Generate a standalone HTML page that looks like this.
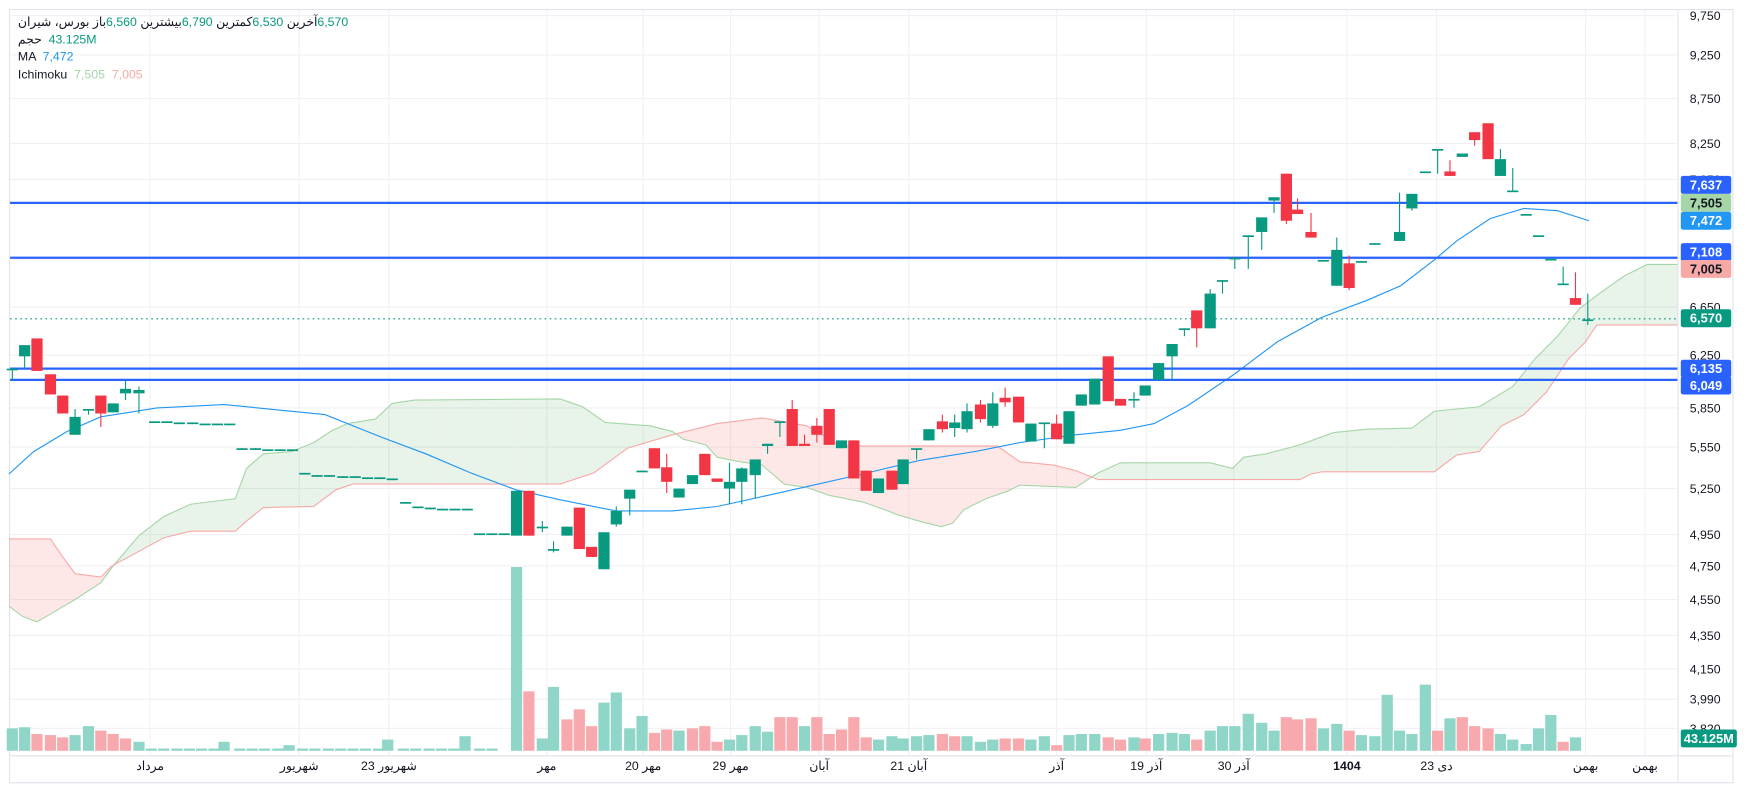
<!DOCTYPE html>
<html><head><meta charset="utf-8"><style>
html,body{margin:0;padding:0;background:#fff;width:1757px;height:790px;overflow:hidden}
svg{display:block;font-family:"Liberation Sans","Noto Sans CJK SC",sans-serif}
#wrap{position:absolute;left:0;top:0;transform:scale(1.1205);transform-origin:0 0}
#leg{position:absolute;left:16px;top:13px;font:11px "Liberation Sans","Noto Sans CJK SC",sans-serif;color:#131722;line-height:15.5px;white-space:nowrap}
#leg span{unicode-bidi:isolate}
.g{color:#089981}.b{color:#2196f3}.lg{color:#a5d6a7}.lr{color:#f7a9a7}
</style></head><body>
<svg id="s" width="1757" height="790" viewBox="0 0 1568 705" preserveAspectRatio="none" xmlns="http://www.w3.org/2000/svg"></svg>
<div id="wrap"><div id="leg">
<div><span>بورس، شیران</span> <span>باز</span><span class="g">6,560</span> <span>بیشترین</span><span class="g">6,790</span> <span>کمترین</span><span class="g">6,530</span> <span>آخرین</span><span class="g">6,570</span></div>
<div><span>حجم</span> &nbsp;<span class="g">43.125M</span></div>
<div>MA &nbsp;<span class="b">7,472</span></div>
<div>Ichimoku &nbsp;<span class="lg">7,505</span> &nbsp;<span class="lr">7,005</span></div>
</div></div>
<script>
const s=document.getElementById('s');let h='';
const G='#089981',R='#f23645';
h+='<rect x="8.5" y="8.5" width="1538" height="690" fill="none" stroke="#e0e3eb"/>';
const ys=[[14,'9,750'],[49,'9,250'],[88,'8,750'],[128,'8,250'],[274,'6,650'],[317,'6,250'],[364,'5,850'],[399,'5,550'],[436,'5,250'],[477,'4,950'],[505,'4,750'],[535,'4,550'],[567,'4,350'],[597,'4,150'],[624,'3,990'],[650,'3,820'],[160,'7,850'],[232,'7,050']];
for(const [y,t] of ys){h+=`<line x1="9" x2="1497" y1="${y}" y2="${y}" stroke="#f0f1f4"/>`;h+=`<text x="1508" y="${y+4}" font-size="11" fill="#131722">${t}</text>`;}
const xs=[[134,'مرداد'],[267,'شهریور'],[347,'23 شهریور'],[488,'مهر'],[574,'20 مهر'],[652,'29 مهر'],[731,'آبان'],[811,'21 آبان'],[943,'آذر'],[1023,'19 آذر'],[1101,'30 آذر'],[1202,'1404'],[1282,'23 دی'],[1415,'بهمن'],[1468,'بهمن']];
for(const [x,t] of xs){h+=`<line x1="${x}" x2="${x}" y1="9" y2="674" stroke="#f0f1f4"/>`;h+=`<text x="${x}" y="687" font-size="11" fill="#131722" text-anchor="middle" ${t=='1404'?'font-weight="bold"':''}>${t}</text>`;}
h+='<line x1="1497.5" x2="1497.5" y1="9" y2="698" stroke="#e0e3eb"/><line x1="9" x2="1546" y1="674.5" y2="674.5" stroke="#e0e3eb"/>';
const A=[[8,541],[20,550],[33,555],[45,548],[67,535],[90,520],[101,505],[124,478],[146,461],[170,450],[210,445],[220,418],[235,405],[260,403],[280,395],[295,385],[310,378],[335,374],[350,360],[370,357],[500,356],[520,363],[540,377],[580,380],[600,385],[610,392],[630,397],[640,408],[660,412],[680,415],[700,432],[720,435],[740,442],[770,448],[790,455],[800,459],[820,465],[840,470],[850,467],[860,455],[880,445],[900,438],[910,433],[960,435],[980,422],[1000,413],[1080,413],[1100,418],[1110,408],[1130,405],[1160,397],[1190,386],[1220,383],[1260,382],[1280,367],[1320,363],[1350,345],[1370,320],[1390,300],[1410,275],[1430,260],[1450,246],[1470,236],[1497,236]];
const B=[[8,481],[45,481],[56,497],[67,512],[90,515],[100,505],[124,492],[146,480],[170,474],[210,474],[220,465],[235,453],[280,452],[300,437],[315,432],[500,432],[530,422],[560,400],[600,388],[640,378],[680,373],[720,380],[750,398],[890,398],[910,412],[940,415],[960,420],[980,428],[1160,428],[1170,423],[1180,421],[1280,421],[1300,406],[1320,403],[1340,380],[1360,370],[1380,350],[1400,320],[1415,305],[1425,290],[1497,290]];
function ip(P,x){for(let i=0;i<P.length-1;i++){if(x>=P[i][0]&&x<=P[i+1][0]){const t=(x-P[i][0])/(P[i+1][0]-P[i][0]||1);return P[i][1]+t*(P[i+1][1]-P[i][1]);}}return P[P.length-1][1];}
for(let x=8;x<1497;x++){const a=ip(A,x),b=ip(B,x),a2=ip(A,x+1),b2=ip(B,x+1);const c=a<b?'rgba(67,160,71,0.12)':'rgba(244,67,54,0.12)';h+=`<polygon points="${x},${a} ${x+1},${a2} ${x+1},${b2} ${x},${b}" fill="${c}"/>`;}
h+=`<polyline points="${A.map(p=>p.join(',')).join(' ')}" fill="none" stroke="#a5d6a7" stroke-width="1"/>`;
h+=`<polyline points="${B.map(p=>p.join(',')).join(' ')}" fill="none" stroke="#f7a9a7" stroke-width="1"/>`;
const M=[[8,423],[30,403],[60,385],[90,372],[140,364],[200,361],[240,365],[290,370],[340,390],[380,405],[420,422],[460,437],[500,446],[550,456],[600,456],[640,452],[690,441],[730,432],[770,423],[820,411],[870,403],[910,395],[960,388],[1000,384],[1030,378],[1060,362],[1100,335],[1140,305],[1180,283],[1220,268],[1250,255],[1280,232],[1300,215],[1330,195],[1360,186],[1390,188],[1418,197]];
h+=`<polyline points="${M.map(p=>p.join(',')).join(' ')}" fill="none" stroke="#2196f3" stroke-width="1"/>`;
const V=[[11,650,G],[22,649,G],[33,655,R],[45,656,R],[56,658,R],[67,656,G],[79,648,G],[90,652,R],[101,655,R],[112,659,R],[124,662,G],[200,662,G],[258,665,G],[346,660,G],[415,657,G],[461,506,G],[472,617,R],[484,659,G],[494,613,G],[506,642,R],[517,633,R],[528,648,R],[539,627,G],[550,618,G],[562,650,G],[573,639,G],[584,654,R],[595,651,R],[606,652,G],[618,650,R],[629,648,R],[640,662,R],[651,660,G],[662,656,G],[674,648,G],[685,653,G],[696,640,R],[707,640,R],[718,648,G],[729,640,R],[740,655,R],[751,651,R],[762,640,R],[773,658,R],[784,660,G],[796,657,G],[806,659,G],[818,657,G],[829,656,G],[841,655,R],[852,657,R],[863,657,G],[875,662,G],[886,660,G],[897,659,R],[909,659,R],[920,660,G],[932,657,G],[943,665,R],[954,656,G],[965,655,G],[977,655,G],[989,658,R],[1000,660,R],[1012,658,G],[1022,659,R],[1034,655,G],[1046,654,G],[1057,655,G],[1068,660,R],[1080,652,G],[1091,648,G],[1102,648,G],[1114,637,G],[1126,645,G],[1137,652,G],[1148,640,R],[1158,642,R],[1170,641,R],[1181,650,G],[1193,646,G],[1204,652,R],[1215,656,G],[1227,657,G],[1238,620,G],[1249,652,G],[1260,655,G],[1272,611,G],[1283,652,R],[1294,641,G],[1305,640,R],[1316,648,R],[1328,650,R],[1339,655,G],[1350,660,G],[1362,664,G],[1373,650,G],[1384,638,G],[1395,662,R],[1406,658,G]];
const vx=[...V.map(v=>v[0])];
for(let x=135;x<450;x+=11.25){if(!vx.some(q=>Math.abs(q-x)<5))V.push([Math.round(x),668,G]);}
for(const [x,y,c] of V){h+=`<rect x="${x-5}" y="${y}" width="10" height="${670-y}" fill="${c==G?'#8fd5c8':'#f7a9ad'}"/>`;}
for(const y of [181,230,329,339])h+=`<line x1="9" x2="1497" y1="${y}" y2="${y}" stroke="#2962ff" stroke-width="2"/>`;
h+='<line x1="9" x2="1497" y1="284.5" y2="284.5" stroke="#089981" stroke-dasharray="1.5,3"/>';
const C=[[11,329,330,329,340,G],[22,308,318,308,329,G],[33,302,331,302,331,R],[45,334,352,334,352,R],[56,353,369,353,369,R],[67,372,388,365,388,G],[79,365,366,365,370,G],[90,353,369,353,381,R],[101,360,368,360,368,G],[112,347,351,339,357,G],[124,348,351,345,369,G],
[461,438,478,438,478,G],[472,438,478,438,478,R],[484,470,471,465,475,G],[494,490,491,483,493,G],[506,470,478,470,478,G],[517,453,490,453,490,R],[528,488,497,488,497,R],[539,475,508,475,508,G],[550,456,468,452,470,G],[562,437,445,437,460,G],[573,420,421,420,421,G],[584,400,418,400,418,R],[595,417,430,405,440,R],[606,436,444,436,444,G],[618,424,432,424,432,G],[629,405,424,405,424,R],[640,427,430,427,430,R],[651,430,436,413,450,G],[662,418,430,417,450,G],[674,410,424,410,445,G],[685,396,398,396,405,G],[696,376,377,376,390,G],[707,365,398,357,398,R],[718,396,398,388,398,R],[729,380,388,373,395,R],[740,365,397,365,397,R],[751,393,400,393,400,G],[762,393,427,393,427,R],[773,420,438,420,438,R],[784,427,440,427,440,G],[796,420,437,420,437,R],[806,410,432,410,432,G],[818,400,401,400,410,G],[829,383,393,383,393,G],[841,376,383,370,386,R],[852,377,382,370,390,G],[863,367,383,360,386,G],[875,361,374,357,377,R],[886,360,380,350,382,G],[897,355,359,346,363,R],[909,354,377,354,377,R],[920,378,394,378,394,G],[932,377,378,377,400,G],[943,378,392,370,392,R],[954,367,396,367,396,G],[965,352,362,352,362,G],[977,338,361,338,361,G],[989,318,358,318,358,R],[1000,356,362,356,362,R],[1012,356,357,350,364,G],[1022,344,353,344,353,G],[1034,324,339,324,339,G],[1046,307,318,307,340,G],[1057,293,294,293,300,G],[1068,277,293,277,310,R],[1080,262,293,258,293,G],[1091,250,251,250,262,G],[1102,230,231,230,240,G],[1114,210,211,210,240,G],[1126,194,207,194,223,G],[1137,176,179,176,190,G],[1148,155,197,155,200,R],[1158,187,191,177,191,R],[1170,207,212,190,212,R],[1181,232,233,232,233,G],[1193,223,255,212,255,G],[1204,235,257,228,259,R],[1215,233,234,233,234,G],[1227,217,218,217,218,G],[1249,207,215,172,215,G],[1260,173,186,173,188,G],[1272,153,154,153,154,G],[1283,133,134,133,155,G],[1294,153,157,143,157,R],[1305,137,140,137,140,G],[1316,118,125,118,130,R],[1328,110,142,110,142,R],[1339,142,157,133,157,G],[1350,170,171,150,171,G],[1362,191,192,191,192,G],[1373,210,211,210,211,G],[1384,231,232,231,232,G],[1395,253,254,238,254,G],[1406,266,272,243,272,R],[1417,285,286,262,290,G]];
const dash=[[138,376],[149,376],[160,377],[172,377],[183,378],[194,378],[205,378],[216,400],[228,400],[239,401],[250,401],[261,401],[272,422],[283,424],[294,424],[306,425],[317,425],[328,426],[339,426],[350,427],[362,448],[373,452],[384,453],[395,454],[406,454],[417,454],[428,476],[439,476],[450,476]];
for(const [x,y] of dash)C.push([x,y,y+1.5,y,y+1.5,G]);
for(const [x,t,b,wt,wb,c] of C){h+=`<line x1="${x}" x2="${x}" y1="${wt}" y2="${wb}" stroke="${c}" stroke-width="1"/>`;h+=`<rect x="${x-5}" y="${t}" width="10" height="${Math.max(b-t,1.5)}" fill="${c}"/>`;}
const T=[[165,'7,637','#2962ff','#fff'],[181,'7,505','#a5d6a7','#131722'],[197,'7,472','#2196f3','#fff'],[225,'7,108','#2962ff','#fff'],[240,'7,005','#f7a9a7','#131722'],[284,'6,570','#089981','#fff'],[329,'6,135','#2962ff','#fff'],[344,'6,049','#2962ff','#fff'],[659,'43.125M','#089981','#fff']];
for(const [y,t,bg,fg] of T){const w=t.length>5?50:45;h+=`<rect x="1500" y="${y-8}" width="${w}" height="16" rx="2" fill="${bg}"/><text x="${1500+w/2}" y="${y+4}" font-size="11.5" fill="${fg}" text-anchor="middle" font-weight="bold">${t}</text>`;}
s.innerHTML=h;
</script>
</body></html>
